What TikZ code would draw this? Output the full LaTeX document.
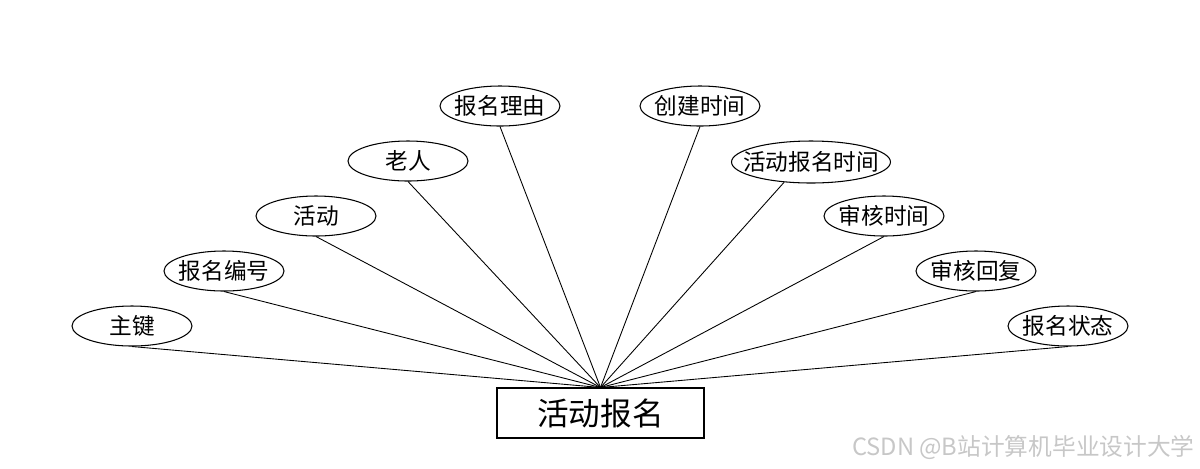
\documentclass[tikz,border=0pt]{standalone}
\usepackage{fontspec}
\setmainfont{Noto Sans CJK SC}
\usetikzlibrary{shapes.geometric}
\tikzset{
  attr/.style={draw, ellipse, line width=0.6pt, inner sep=0pt, minimum width=2.4cm, minimum height=0.8cm,
    label={[font=\fontsize{12.9}{15}\selectfont, inner sep=0pt]center:#1}},
  entity/.style={draw, rectangle, line width=0.6pt, inner sep=0pt, minimum width=4.14cm, minimum height=1cm, font=\fontsize{18}{22}\selectfont},
  link/.style={line width=0.5pt}
}
\begin{document}
\begin{tikzpicture}[x=0.02cm,y=-0.02cm]
\useasboundingbox (0,0) rectangle (1200,468);
\node[entity] (E) at (600.5,413) {活动报名};
\node[attr=主键] (a1) at (132,326) {};
\node[attr=报名编号] (a2) at (224,271) {};
\node[attr=活动] (a3) at (316,216) {};
\node[attr=老人] (a4) at (408,161) {};
\node[attr=报名理由] (a5) at (500,106) {};
\node[attr=创建时间] (a6) at (700,106) {};
\node[attr=活动报名时间, minimum width=3.18cm, minimum height=0.84cm] (a7) at (811,162) {};
\node[attr=审核时间] (a8) at (884,216) {};
\node[attr=审核回复] (a9) at (976,271) {};
\node[attr=报名状态] (a10) at (1068,326) {};
\foreach \i in {1,2,3,4,5,6,8,9,10} {
  \draw[link] (a\i.south) -- (E.north);
}
\draw[link] (a7.217) -- (E.north);
\node[text=black!22, font=\fontsize{13.5}{16}\selectfont, anchor=east, inner sep=0pt] (wm) at (1195,447) {CSDN @B站计算机毕业设计大学};
\end{tikzpicture}
\end{document}
